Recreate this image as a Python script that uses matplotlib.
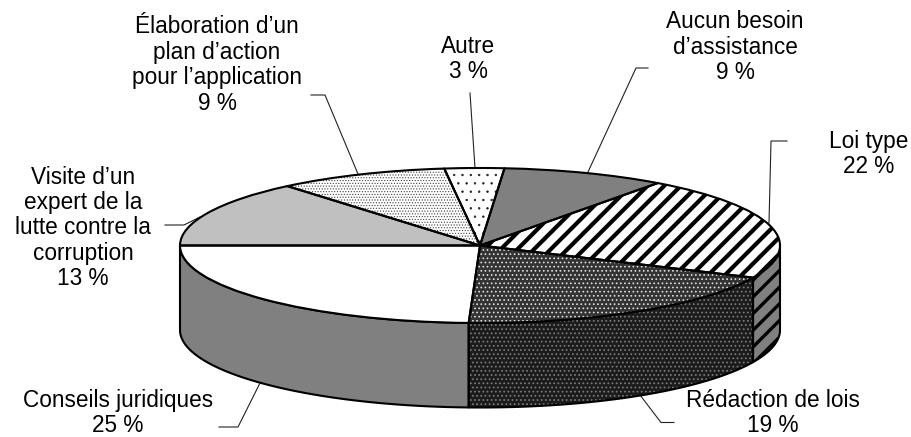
import numpy as np
import matplotlib
matplotlib.use("Agg")
import matplotlib.pyplot as plt
from matplotlib.patches import Polygon
from matplotlib.transforms import Affine2D

# Slices in drawing order, counter-clockwise from the start angle
categories = ["Conseils juridiques", "Rédaction de lois", "Loi type", "Aucun besoin\nd’assistance",
              "Autre", "Élaboration d’un\nplan d’action\npour l’application",
              "Visite d’un\nexpert de la\nlutte contre la\ncorruption"]
labelled_percent = [25, 19, 22, 9, 3, 9, 13]
# shares as measured from the slice boundaries in the picture
shares = [24.4, 18.8, 21.7, 8.8, 3.2, 9.2, 13.9]

top_colors = ["#ffffff", "#333333", "#ffffff", "#808080", "#ffffff", "#ffffff", "#c0c0c0"]
side_colors = ["#808080", "#1c1c1c", "#808080", "#808080", "#808080", "#808080", "#808080"]
hatches = [None, "....", "//", None, "..", "......", None]
hatch_colors = ["none", "#e0e0e0", "#000000", "none", "#222222", "#444444", "none"]
side_hatch_colors = ["none", "#808080", "#000000", "none", "none", "none", "none"]
hatch_widths = [0.5, 0.7, 3.0, 0.5, 0.5, 0.5, 0.5]

W, H = 911, 437
CX, CY, RX, RY, DEPTH = 480.0, 245.5, 300.0, 77.5, 84.5
START = 180.0
EDGE = 1.5

plt.rcParams["font.family"] = ["Liberation Sans", "DejaVu Sans"]
fig = plt.figure(figsize=(W / 100, H / 100), dpi=100)
ax = fig.add_axes([0, 0, 1, 1])

# Top face: a real pie, squashed by the axes' own scales
style = dict(startangle=START, counterclock=True, radius=1, normalize=True)
base, _ = ax.pie(shares, colors=top_colors, wedgeprops=dict(linewidth=0), **style)
for w, h, hc, hw in zip(base, hatches, hatch_colors, hatch_widths):
    if h:
        w.set_hatch(h)
        w.set_edgecolor(hc)
        w.set_hatch_linewidth(hw)
        w.set_linewidth(0)
outline, _ = ax.pie(shares, colors=["none"] * len(shares),
                    wedgeprops=dict(linewidth=EDGE, edgecolor="black", joinstyle="round"), **style)

ax.set_aspect("auto")
ax.set_xlim(-CX / RX, (W - CX) / RX)
ax.set_ylim((CY - H) / RY, CY / RY)
ax.axis("off")

# Side wall: lower half of the rim, pushed down by the depth
d = DEPTH / RY
angles = START + np.cumsum([0] + shares) * 3.6
for i in range(len(shares)):
    a0, a1 = max(angles[i], 180), min(angles[i + 1], 360)
    if a1 <= a0:
        continue
    t = np.radians(np.linspace(a0, a1, 120))
    xs, ys = np.cos(t), np.sin(t)
    pts = np.column_stack([np.r_[xs, xs[::-1]], np.r_[ys, ys[::-1] - d]])
    ax.add_patch(Polygon(pts, closed=True, facecolor=side_colors[i], edgecolor="none", zorder=0.5))
    if hatches[i]:
        hp = Polygon(pts, closed=True, facecolor="none", edgecolor=side_hatch_colors[i],
                     hatch=hatches[i], linewidth=0, zorder=0.6)
        hp.set_hatch_linewidth(hatch_widths[i] if i != 2 else 2.4)
        ax.add_patch(hp)
    ax.add_patch(Polygon(pts, closed=True, facecolor="none", edgecolor="black",
                         linewidth=EDGE, joinstyle="round", zorder=0.7))

# Pixel-coordinate transform for annotation text and leader lines
px = Affine2D().scale(1, -1).translate(0, H)

label_xy = [(118, 413), (773, 413), (869, 154), (735, 47), (468, 59), (217, 65), (83, 228)]
leaders = [
    [(219, 427), (238, 427), (260, 383)],
    [(674, 422.5), (661, 422.5), (640, 395)],
    [(787, 141), (771, 141), (769, 223)],
    [(648, 68), (636, 68), (588, 172)],
    [(470, 93), (475, 168)],
    [(311, 95), (325, 95), (358, 174)],
    [(165, 225), (184, 225), (200, 217)],
]
for cat, pct, (x, y), pts in zip(categories, labelled_percent, label_xy, leaders):
    ax.text(x, y, f"{cat}\n{pct} %", transform=px, ha="center", va="center",
            multialignment="center", fontsize=16.3, color="black", linespacing=1.13)
    p = np.array(pts, float)
    ax.plot(p[:, 0], p[:, 1], transform=px, color="#222222", lw=0.8, zorder=0.4, clip_on=False)

fig.savefig("out.png", dpi=100, facecolor="white")
